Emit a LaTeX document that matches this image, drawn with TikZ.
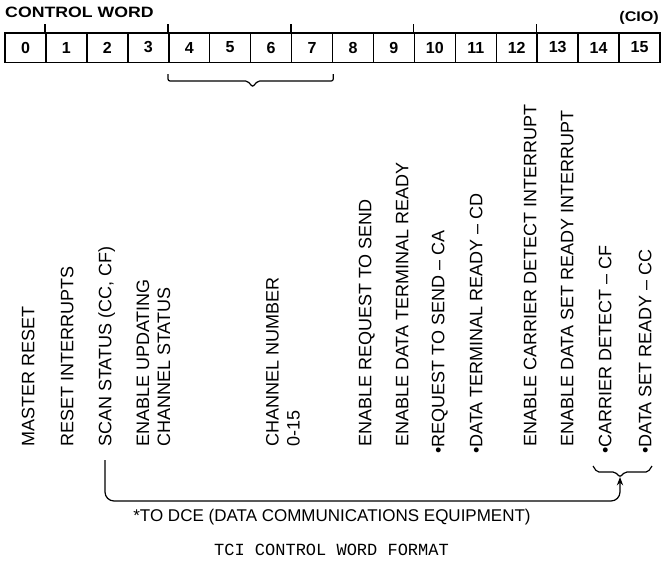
\documentclass[tikz,border=0pt]{standalone}
\usepackage{fontspec}
\setmainfont{Liberation Sans}
\setmonofont{Liberation Mono}
\usetikzlibrary{arrows.meta,positioning,calc}

\begin{document}
\begin{tikzpicture}[x=1pt,y=-1pt,>=Stealth,
    cell/.style={draw,line width=1.5pt,minimum width=40.9375pt,minimum height=29.5pt,
      inner sep=0pt,font=\fontsize{16}{19}\selectfont\bfseries},
    bitlbl/.style={rotate=90,anchor=west,inner sep=0pt,text height=12.9pt,text depth=0pt,
      font=\fontsize{18}{21}\selectfont},
    twolbl/.style={rotate=90,anchor=west,inner sep=0pt,align=left,
      font=\fontsize{18}{21}\selectfont},
    bracket/.style={line width=1.2pt,rounded corners=2pt}]
  \useasboundingbox (0,0) rectangle (661,560);
  \node[anchor=west,inner sep=0pt,xscale=1.18,font=\fontsize{15}{18}\selectfont\bfseries] (title) at (5,12) {CONTROL WORD};
  \node[anchor=east,inner sep=0pt,xscale=1.15,font=\fontsize{14}{17}\selectfont\bfseries] (cio) at (659,17.5) {(CIO)};
  \foreach \i in {0,...,15}
    \node[cell] (c\i) at ({5+40.9375*(\i+0.5)},47.5) {\i};
  \foreach \i in {1,4,7,10,13}
    \draw[line width=1.5pt] (c\i.north west) -- ++(0,-8);
  \draw[bracket] ($(c4.south west)+(0,11)$) -- ++(0,7)
    -- ($(c4.south west)!0.5!(c7.south east)+(-3,18)$) -- ++(5,6) -- ++(5,-6)
    -- ($(c7.south east)+(0,18)$) -- ++(0,-7);
  % bit functions
  \node[bitlbl] (mr)  at (28,447) {MASTER RESET};
  \node[bitlbl] (ri)  at (67,447) {RESET INTERRUPTS};
  \node[bitlbl] (scan) at (105,447) {SCAN STATUS (CC, CF)};
  \node[twolbl] (upd) at (153.5,447) {ENABLE UPDATING\\CHANNEL STATUS};
  \node[twolbl] (chn) at (283,447) {CHANNEL NUMBER\\0-15};
  \node[bitlbl] (erts) at (365,447) {ENABLE REQUEST TO SEND};
  \node[bitlbl] (edtr) at (402,447) {ENABLE DATA TERMINAL READY};
  \node[bitlbl] (rts) at (438,454) {\textbullet REQUEST TO SEND -- CA};
  \node[bitlbl] (dtr) at (476,454) {\textbullet DATA TERMINAL READY -- CD};
  \node[bitlbl] (ecd) at (530,447) {ENABLE CARRIER DETECT INTERRUPT};
  \node[bitlbl] (edsr) at (567,447) {ENABLE DATA SET READY INTERRUPT};
  \node[bitlbl] (cd)  at (605,454) {\textbullet CARRIER DETECT -- CF};
  \node[bitlbl] (dsr) at (645,454) {\textbullet DATA SET READY -- CC};
  % DCE bracket
  \coordinate (dce) at (620,477);
  \draw[bracket] (593,466) -- (597,472) -- ($(dce)+(-5,-5)$) -- (dce) -- ($(dce)+(5,-5)$)
    -- (648,472) -- (652,466);
  \draw[->,line width=1.2pt,rounded corners=9pt] ($(scan.west)+(0,13)$) |- ($(dce)+(0,24)$) -- (dce);
  \node[font=\fontsize{17}{20}\selectfont] (note) at (332,517) {*TO DCE (DATA COMMUNICATIONS EQUIPMENT)};
  \node[font=\fontsize{17}{20}\selectfont\ttfamily] (cap) at (331.5,550) {TCI CONTROL WORD FORMAT};
\end{tikzpicture}
\end{document}
